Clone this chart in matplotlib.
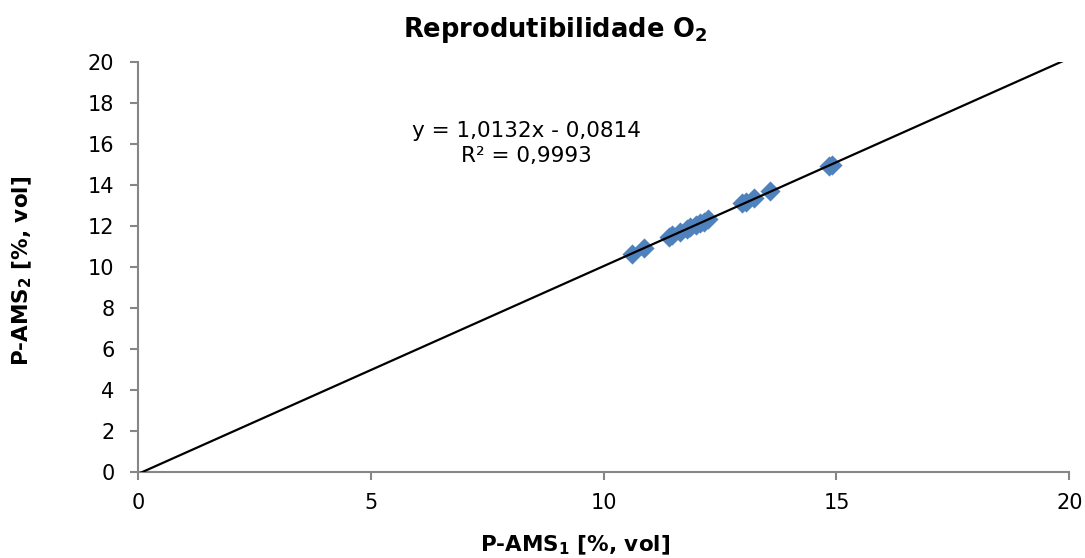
import matplotlib.pyplot as plt
import numpy as np

plt.rcParams['font.family'] = ['DejaVu Sans']

# O2 readings from both analysers [%, vol]
ams1 = [10.61, 10.86, 11.41, 11.46, 11.64, 11.80, 11.86, 11.98, 12.07, 12.15, 12.25,
        12.97, 13.05, 13.22, 13.58, 14.83, 14.90]
ams2 = [10.62, 10.94, 11.48, 11.55, 11.72, 11.88, 11.94, 12.05, 12.13, 12.22, 12.34,
        13.11, 13.16, 13.35, 13.72, 14.93, 14.98]

slope = 1.0132
intercept = -0.0814
r2 = 0.9993

fig = plt.figure(figsize=(10.85, 5.58), dpi=100)
ax = fig.add_axes([0.1272, 0.1536, 0.8583, 0.7353])

diamond = [(-1, 0), (0, 1), (1, 0), (0, -1), (-1, 0)]
ax.plot(ams1, ams2, linestyle='none', marker=diamond, markersize=14.5,
        color='#4F81BD', markeredgewidth=0, zorder=2)

xs = np.array([0, 20])
ax.plot(xs, slope * xs + intercept, color='black', linewidth=1.6, zorder=3)

ax.set_xlim(0, 20)
ax.set_ylim(0, 20)
ax.set_xticks(range(0, 21, 5))
ax.set_yticks(range(0, 21, 2))
for side in ['top', 'right']:
    ax.spines[side].set_visible(False)
for side in ['left', 'bottom']:
    ax.spines[side].set_color('#868686')
    ax.spines[side].set_linewidth(1.5)
ax.tick_params(axis='both', colors='#868686', length=6, width=1.5,
               labelsize=15, labelcolor='black')
ax.tick_params(axis='x', pad=9)
ax.tick_params(axis='y', pad=11)

fig.text(0.512, 0.946, r'Reprodutibilidade O$_\mathbf{2}$', ha='center', va='center',
         fontsize=18.5, fontweight='bold')
fig.text(0.530, 0.023, r'P-AMS$_\mathbf{1}$ [%, vol]', ha='center', va='center',
         fontsize=15.5, fontweight='bold')
fig.text(0.021, 0.515, r'P-AMS$_\mathbf{2}$ [%, vol]', ha='center', va='center',
         fontsize=15.5, fontweight='bold', rotation=90)

eq = 'y = {:.4f}x - {:.4f}'.format(slope, -intercept).replace('.', ',')
r2txt = 'R² = {:.4f}'.format(r2).replace('.', ',')
fig.text(0.485, 1 - 131 / 558, eq, ha='center', va='center', fontsize=15.5)
fig.text(0.485, 1 - 156 / 558, r2txt, ha='center', va='center', fontsize=15.5)

fig.savefig('out.png', dpi=100)
